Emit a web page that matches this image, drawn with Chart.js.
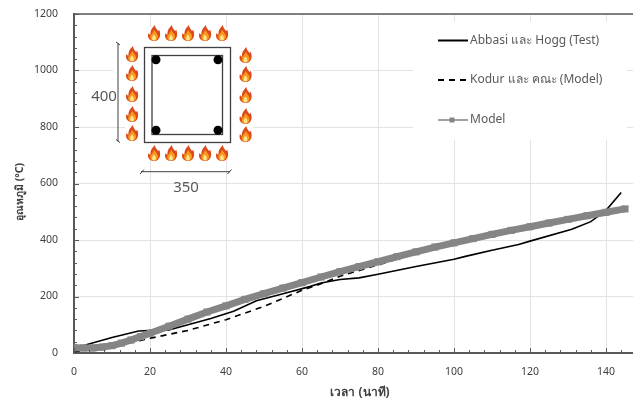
<!DOCTYPE html>
<html>
<head>
<meta charset="utf-8">
<script src="https://cdn.jsdelivr.net/npm/chart.js@4"></script>
<style>
html, body { margin: 0; padding: 0; background: #fff; }
#wrap { width: 633px; height: 403px; }
</style>
</head>
<body>
<div id="wrap"><canvas id="mychart" width="633" height="403"></canvas></div>
<script>
// values
const abbasiTime = [0, 3, 10, 17, 21, 25, 30, 36, 42, 48, 55, 62, 65, 70, 75, 80, 90, 100, 103, 110, 117, 120, 131, 136, 140, 144];
const abbasiTemp = [10, 28, 55, 78, 80, 82, 100, 122, 148, 185, 210, 235, 248, 260, 266, 279, 306, 332, 342, 364, 384, 396, 438, 465, 505, 568];

const kodurTime = [0, 10, 20, 30, 40, 50, 60, 65, 70, 80, 90, 100, 110, 120, 130, 140, 145];
const kodurTemp = [5, 22, 52, 80, 118, 165, 222, 245, 272, 312, 352, 392, 422, 447, 475, 502, 516];

const modelTime = [0, 2.5, 5, 7.5, 10, 12.5, 15, 17.5, 20, 25, 30, 35, 40, 45, 50, 55, 60, 65, 70, 75, 80, 85, 90, 95, 100, 105, 110, 115, 120, 125, 130, 135, 140, 145];
const modelTemp = [19, 18, 18, 21, 26, 35, 46, 58, 70, 95, 120, 145, 167, 190, 210, 230, 249, 269, 288, 306, 323, 341, 358, 375, 390, 405, 420, 434, 447, 460, 473, 486, 498, 510];

const xMajor = 20;
const yMajor = 200;

const labelFont = '"Noto Sans", Tahoma, sans-serif';
const axisColor = '#595959';
const gridColor = '#e3e3e3';

function toPoints(xs, ys) {
    return xs.map((x, i) => ({ x: x, y: ys[i] }));
}

function flame(ctx, x, y) {
    ctx.save();
    ctx.translate(x, y);
    ctx.fillStyle = '#dc4a1c';
    ctx.beginPath();
    ctx.moveTo(0, 8);
    ctx.bezierCurveTo(-5, 8, -7, 4, -5.5, 0);
    ctx.bezierCurveTo(-5, 1, -4, 1.5, -3.5, 1.5);
    ctx.bezierCurveTo(-4, -3, -1, -6, 1, -8);
    ctx.bezierCurveTo(1, -5, 3, -4, 4, -2);
    ctx.bezierCurveTo(4.5, -2, 5, -3, 5, -3.5);
    ctx.bezierCurveTo(7, 0, 7, 8, 0, 8);
    ctx.fill();
    ctx.fillStyle = '#f8981d';
    ctx.beginPath();
    ctx.moveTo(0, 7.5);
    ctx.bezierCurveTo(-4, 7.5, -4.5, 4, -3, 1.5);
    ctx.bezierCurveTo(-2, 2, -1.5, -1, 0.5, -3);
    ctx.bezierCurveTo(1, -1, 4.5, 1, 4, 4);
    ctx.bezierCurveTo(4, 6, 2.5, 7.5, 0, 7.5);
    ctx.fill();
    ctx.fillStyle = '#fde68a';
    ctx.beginPath();
    ctx.moveTo(0, 7.5);
    ctx.bezierCurveTo(-2.5, 7.5, -2.5, 4, 0, 1.5);
    ctx.bezierCurveTo(2.5, 4, 2.5, 7.5, 0, 7.5);
    ctx.fill();
    ctx.restore();
}

function drawSection(ctx) {
    ctx.save();
    ctx.fillStyle = '#fff';
    ctx.fillRect(125, 27, 128, 133);
    ctx.fillRect(113, 42, 12, 70);

    [154, 171, 188, 205, 222].forEach(x => { flame(ctx, x, 33); flame(ctx, x, 153); });
    [54, 73, 94, 114, 133].forEach(y => flame(ctx, 132, y));
    [55, 74, 95, 116, 134].forEach(y => flame(ctx, 245.5, y));

    ctx.strokeStyle = '#404040';
    ctx.lineWidth = 1.3;
    ctx.strokeRect(144.5, 47.5, 86, 95);
    ctx.strokeRect(152, 55.5, 70.5, 79);

    ctx.fillStyle = '#000';
    [[156, 59.7], [218, 59.7], [156, 130.3], [218, 130.3]].forEach(p => {
        ctx.beginPath();
        ctx.arc(p[0], p[1], 4.5, 0, Math.PI * 2);
        ctx.fill();
    });

    // dimension lines
    ctx.strokeStyle = '#404040';
    ctx.lineWidth = 1;
    ctx.beginPath();
    ctx.moveTo(118, 43); ctx.lineTo(118, 141.5);
    ctx.moveTo(116, 42); ctx.lineTo(120, 45);
    ctx.moveTo(116, 139.5); ctx.lineTo(120, 142.5);
    ctx.moveTo(141, 171.7); ctx.lineTo(230, 171.7);
    ctx.moveTo(140, 174); ctx.lineTo(144, 169.5);
    ctx.moveTo(227.5, 174); ctx.lineTo(231.5, 169.5);
    ctx.stroke();

    ctx.fillStyle = '#595959';
    ctx.font = '15px ' + labelFont;
    ctx.textAlign = 'center';
    ctx.textBaseline = 'middle';
    ctx.fillText('400', 104, 97);
    ctx.fillText('350', 186, 188);
    ctx.restore();
}

function drawLegend(chart) {
    const ctx = chart.ctx;
    const rows = [40.5, 80, 120];
    ctx.save();
    ctx.fillStyle = '#fff';
    ctx.fillRect(413, 22, 214, 118);
    rows.forEach((y, i) => {
        const ds = chart.data.datasets[i];
        const isModel = ds.label === 'Model';
        ctx.strokeStyle = isModel ? '#a0a0a0' : ds.borderColor;
        ctx.lineWidth = 2;
        ctx.setLineDash(ds.borderDash || []);
        ctx.beginPath();
        ctx.moveTo(438, y);
        ctx.lineTo(468, y);
        ctx.stroke();
        ctx.setLineDash([]);
        if (isModel) {
            ctx.fillStyle = ds.borderColor;
            ctx.fillRect(449.5, y - 2.5, 5, 5);
        }
        ctx.fillStyle = '#595959';
        ctx.font = '12px ' + labelFont;
        ctx.textAlign = 'left';
        ctx.textBaseline = 'middle';
        ctx.fillText(ds.label, 470, y);
    });
    ctx.restore();
}

function drawAxisExtras(chart) {
    const ctx = chart.ctx;
    const area = chart.chartArea;
    const xs = chart.scales.x;
    const ys = chart.scales.y;
    ctx.save();
    ctx.strokeStyle = axisColor;
    ctx.lineWidth = 1;
    ctx.beginPath();
    xs.ticks.forEach(t => {
        const px = Math.round(xs.getPixelForValue(t.value)) + 0.5;
        const len = t.value % xMajor === 0 ? 5 : 3;
        ctx.moveTo(px, area.bottom);
        ctx.lineTo(px, area.bottom - len);
    });
    ys.ticks.forEach(t => {
        const py = Math.round(ys.getPixelForValue(t.value)) + 0.5;
        const len = t.value % yMajor === 0 ? 5 : 3;
        ctx.moveTo(area.left, py);
        ctx.lineTo(area.left + len, py);
    });
    ctx.stroke();

    // top border
    ctx.lineWidth = 1.5;
    ctx.beginPath();
    ctx.moveTo(area.left, area.top);
    ctx.lineTo(area.right, area.top);
    ctx.stroke();

    // axis titles
    ctx.fillStyle = '#404040';
    ctx.textAlign = 'center';
    ctx.textBaseline = 'middle';
    ctx.font = 'bold 12px ' + labelFont;
    ctx.fillText('เวลา (นาที)', 360, 393);
    ctx.font = 'bold 10.5px ' + labelFont;
    ctx.translate(20, 192);
    ctx.rotate(-Math.PI / 2);
    ctx.fillText('อุณหภูมิ (°C)', 0, 0);
    ctx.restore();
}

const extras = {
    id: 'extras',
    afterDraw(chart) {
        drawAxisExtras(chart);
        drawSection(chart.ctx);
        drawLegend(chart);
    }
};

const myChart = new Chart(document.getElementById('mychart').getContext('2d'), {
    type: 'line',
    data: {
        datasets: [
            {
                label: 'Abbasi และ Hogg (Test)',
                data: toPoints(abbasiTime, abbasiTemp),
                borderColor: '#000000',
                borderWidth: 1.6,
                pointRadius: 0,
                order: 2
            },
            {
                label: 'Kodur และ คณะ (Model)',
                data: toPoints(kodurTime, kodurTemp),
                borderColor: '#000000',
                borderWidth: 1.6,
                borderDash: [6, 5],
                pointRadius: 0,
                order: 1
            },
            {
                label: 'Model',
                data: toPoints(modelTime, modelTemp),
                borderColor: '#858585',
                backgroundColor: '#858585',
                borderWidth: 7,
                pointStyle: 'rect',
                pointRadius: 5,
                pointBorderWidth: 0,
                order: 0
            }
        ]
    },
    options: {
        responsive: false,
        animation: false,
        layout: { autoPadding: false, padding: { top: 14, right: 0, left: 0, bottom: 0 } },
        plugins: { legend: { display: false }, tooltip: { enabled: false } },
        scales: {
            x: {
                type: 'linear',
                min: 0,
                max: 147.1,
                afterFit: s => { s.height = 50; s.paddingLeft = 0; s.paddingRight = 0; },
                border: { color: axisColor, width: 2 },
                grid: {
                    drawTicks: false,
                    color: c => (c.tick && c.tick.value % xMajor === 0 && c.tick.value > 0) ? gridColor : 'transparent'
                },
                ticks: {
                    stepSize: 4,
                    includeBounds: false,
                    autoSkip: false,
                    maxRotation: 0,
                    padding: 13,
                    color: '#404040',
                    font: { family: labelFont, size: 10.5 },
                    callback: v => v % xMajor === 0 ? String(v) : ''
                }
            },
            y: {
                min: 0,
                max: 1200,
                afterFit: s => { s.width = 74; s.paddingTop = 0; s.paddingBottom = 0; },
                border: { color: axisColor, width: 2 },
                grid: {
                    drawTicks: false,
                    color: c => (c.tick && c.tick.value % yMajor === 0 && c.tick.value > 0) ? gridColor : 'transparent'
                },
                ticks: {
                    stepSize: 40,
                    autoSkip: false,
                    padding: 16,
                    color: '#404040',
                    font: { family: labelFont, size: 10.5 },
                    callback: v => v % yMajor === 0 ? String(v) : ''
                }
            }
        }
    },
    plugins: [extras]
});
</script>
</body>
</html>
